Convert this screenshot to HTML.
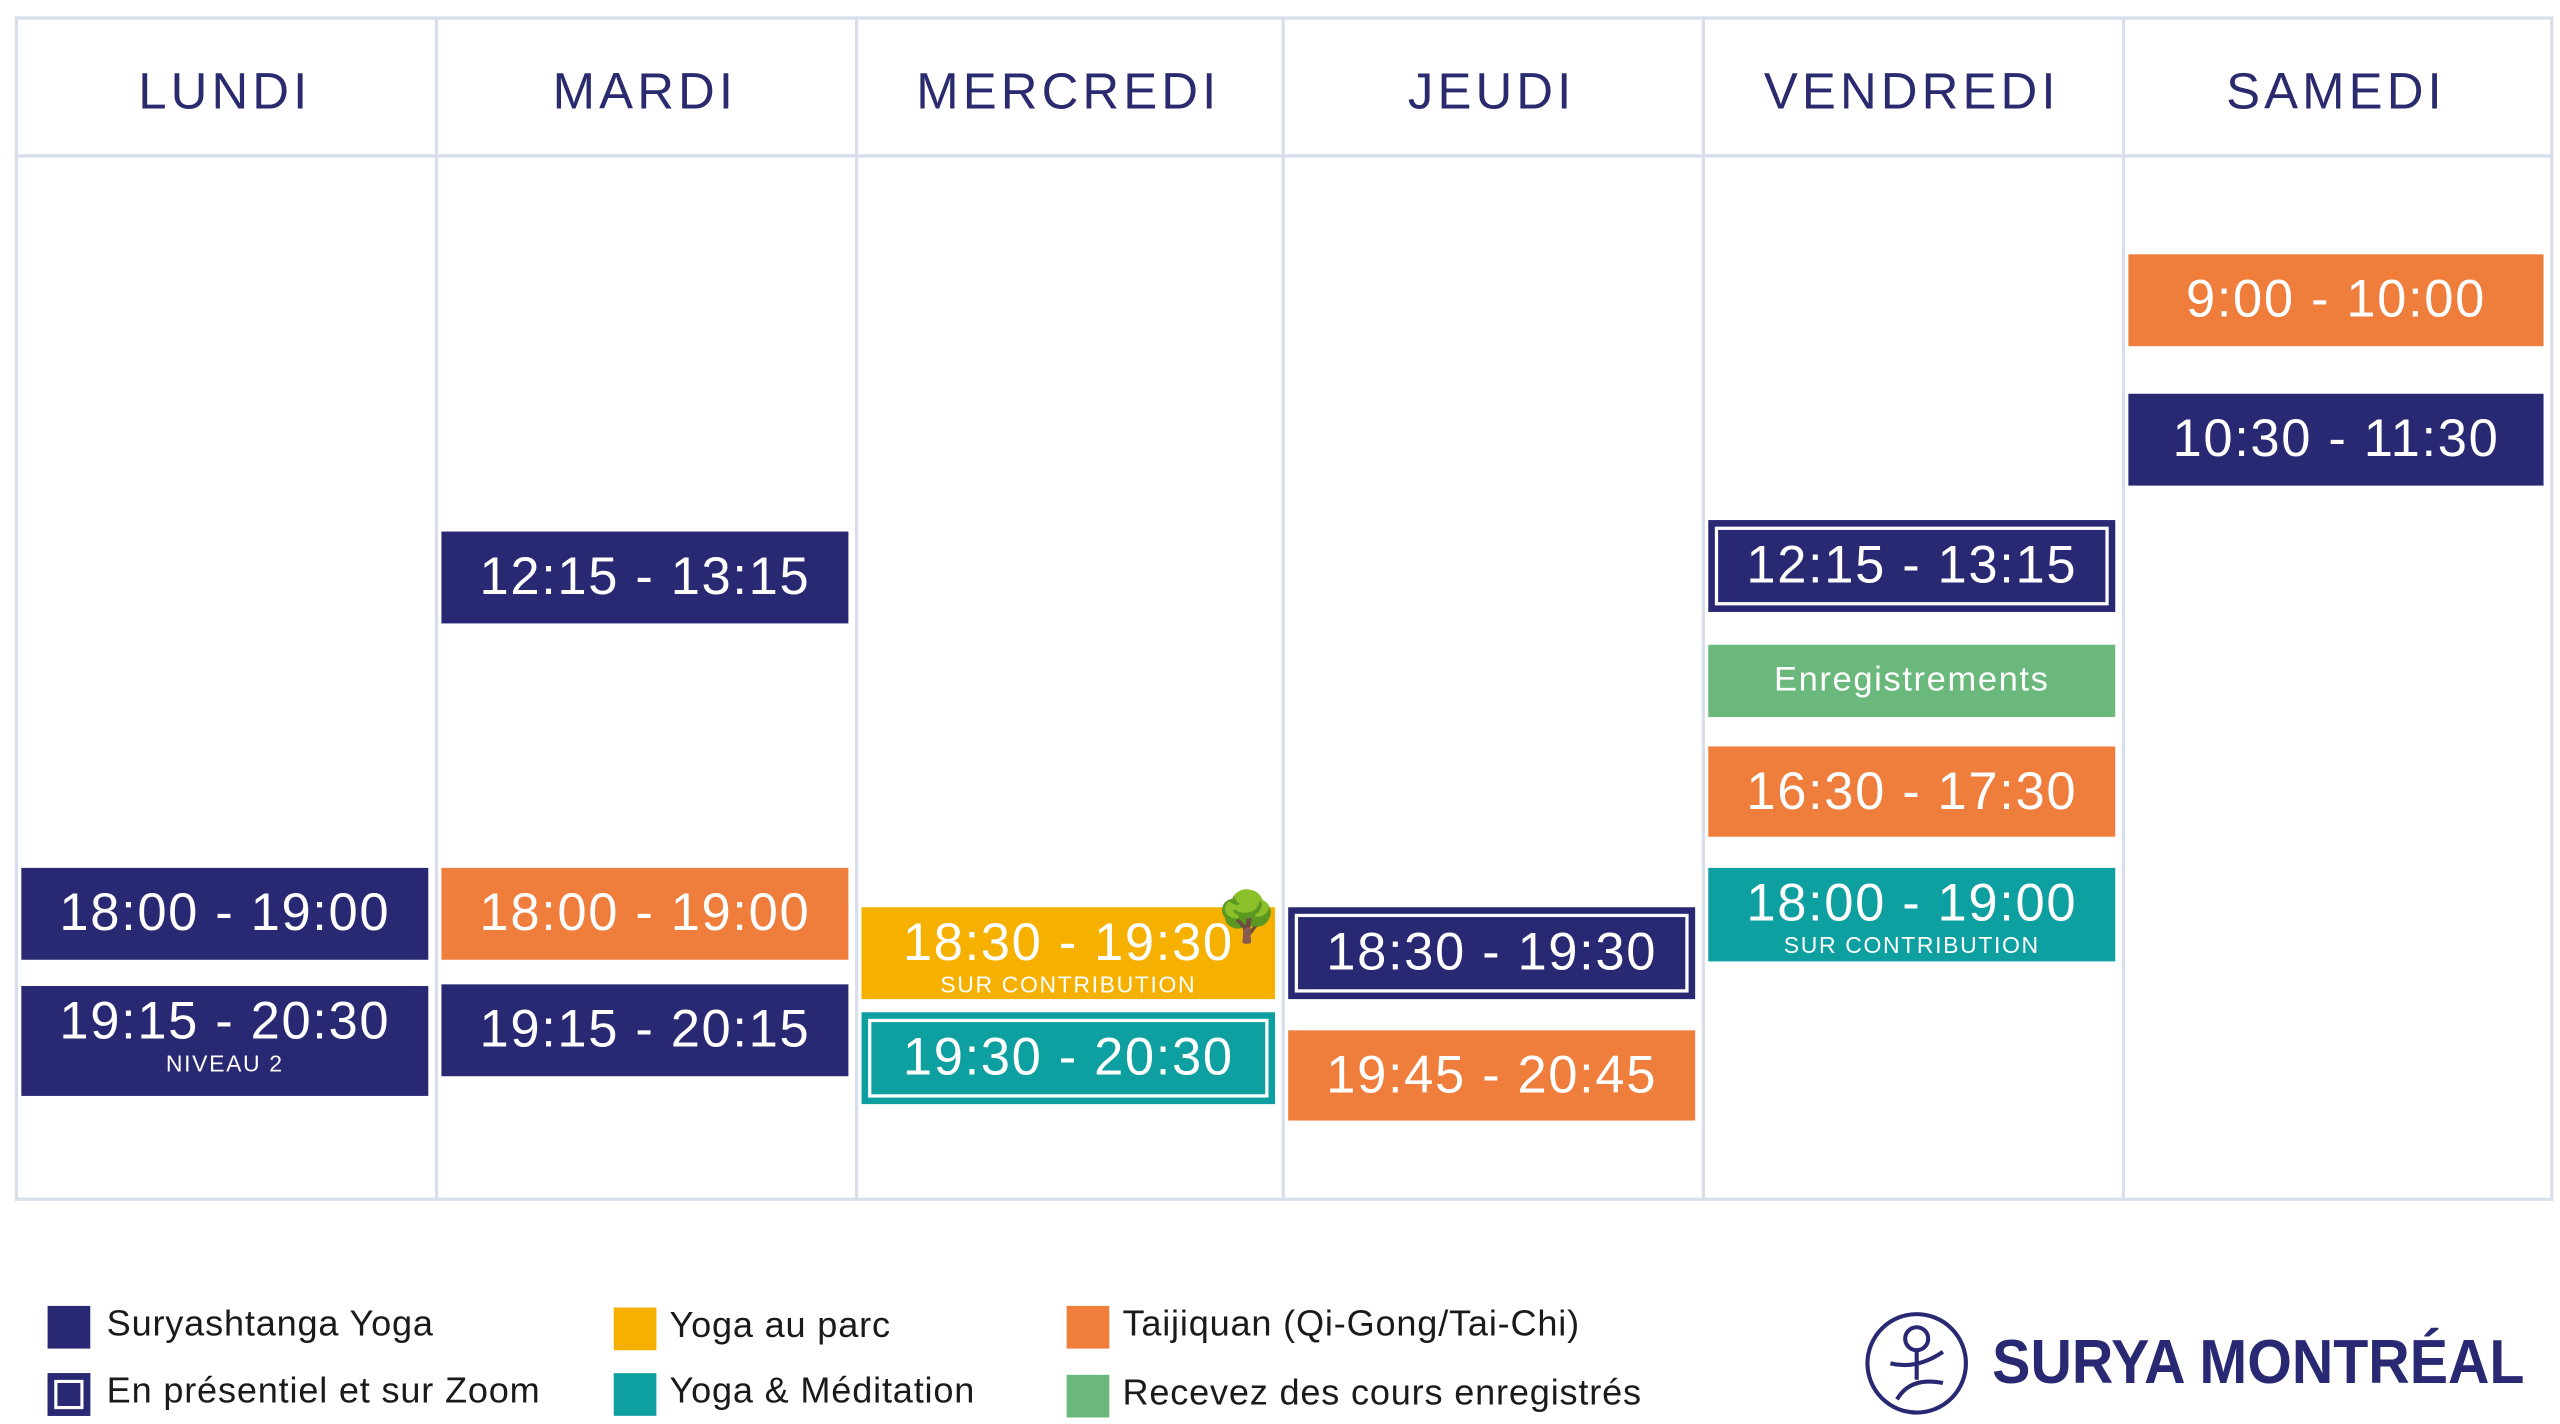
<!DOCTYPE html>
<html><head><meta charset="utf-8"><style>
html,body{margin:0;padding:0;background:#fff;}
body{width:2560px;height:1424px;overflow:hidden;position:relative;}
#stage{position:absolute;left:0;top:0;width:1560px;height:868px;transform:scale(1.641,1.6406);transform-origin:0 0;font-family:"Liberation Sans",sans-serif;}
.grid{position:absolute;left:9px;top:10px;width:1543px;height:718px;border:2px solid #d8deeb;}
.hline{position:absolute;left:9px;top:94px;width:1545px;height:2px;background:#d8deeb;}
.vline{position:absolute;top:10px;width:2px;height:720px;background:#d8deeb;}
.day{position:absolute;top:38px;height:44px;text-align:center;font-size:31px;letter-spacing:2.5px;color:#2a2a6e;}
.blk{position:absolute;color:#fff;text-align:center;box-sizing:border-box;}
.blk .t{font-size:32px;letter-spacing:1px;line-height:1;}
.blk .s{font-size:14px;letter-spacing:1px;line-height:1;margin-top:3px;}
.blk.bord::after{content:"";position:absolute;left:4px;top:4px;right:4px;bottom:4px;border:2px solid #fff;}
.lg{position:absolute;width:26px;height:26px;box-sizing:border-box;}
.lt{position:absolute;font-size:22px;color:#1a1a1a;letter-spacing:0.5px;white-space:nowrap;}
</style></head><body>
<div id="stage">
<div class="grid"></div>
<div class="hline"></div>
<div id="cols"></div>
<div id="blocks"></div>

<div class="lg" style="left:29px;top:796px;background:#282873"></div>
<div class="lt" style="left:65px;top:794px">Suryashtanga Yoga</div>
<div class="lg" style="left:29px;top:837px;background:#282873;border:4px solid #282873;box-shadow:inset 0 0 0 2px #fff"></div>
<div class="lt" style="left:65px;top:835px">En présentiel et sur Zoom</div>
<div class="lg" style="left:374px;top:797px;background:#f5b000"></div>
<div class="lt" style="left:408px;top:795px">Yoga au parc</div>
<div class="lg" style="left:374px;top:837px;background:#0e9fa0"></div>
<div class="lt" style="left:408px;top:835px">Yoga &amp; Méditation</div>
<div class="lg" style="left:650px;top:796px;background:#ef7d3b"></div>
<div class="lt" style="left:684px;top:794px">Taijiquan (Qi-Gong/Tai-Chi)</div>
<div class="lg" style="left:650px;top:838px;background:#6ab87c"></div>
<div class="lt" style="left:684px;top:836px">Recevez des cours enregistrés</div>

<svg style="position:absolute;left:1134px;top:797px" width="68" height="68" viewBox="0 0 68 68">
<circle cx="34" cy="34" r="30" fill="none" stroke="#282873" stroke-width="2.5"/>
<circle cx="34" cy="19" r="7" fill="none" stroke="#282873" stroke-width="2.5"/>
<path d="M34 26 L34 44 M18 34 Q34 38 50 27 M22 56 Q30 42 50 46" fill="none" stroke="#282873" stroke-width="2.5"/>
</svg>
<div style="position:absolute;left:1214px;top:810px;font-size:38px;font-weight:bold;color:#282873;white-space:nowrap;transform:scaleX(0.92);transform-origin:0 0">SURYA MONTRÉAL</div>
</div>
<script>
const days=["LUNDI","MARDI","MERCREDI","JEUDI","VENDREDI","SAMEDI"];
const colEdges=[9,265,521,781,1037,1293,1554];
const classDay=[0,0,1,1,1,2,2,3,3,4,4,4,4,5,5];
const classText=["18:00 - 19:00","19:15 - 20:30","12:15 - 13:15","18:00 - 19:00","19:15 - 20:15","18:30 - 19:30","19:30 - 20:30","18:30 - 19:30","19:45 - 20:45","12:15 - 13:15","Enregistrements","16:30 - 17:30","18:00 - 19:00","9:00 - 10:00","10:30 - 11:30"];
const classSub=["","NIVEAU 2","","","","SUR CONTRIBUTION","","","","","","","SUR CONTRIBUTION","",""];
const classType=["yoga","yoga","yoga","tai","yoga","parc","medz","yogaz","tai","yogaz","rec","tai","med","tai","yoga"];
const classTop=[529,601,324,529,600,553,617,553,628,317,393,455,529,155,240];
const classH=[56,67,56,56,56,56,56,56,55,56,44,55,57,56,56];
const colors={yoga:"#282873",yogaz:"#282873",tai:"#ef7d3b",parc:"#f5b000",med:"#0e9fa0",medz:"#0e9fa0",rec:"#6ab87c"};
const cols=document.getElementById('cols');
days.forEach((d,i)=>{
  const el=document.createElement('div');
  el.className='day';
  el.style.left=colEdges[i]+'px';
  el.style.width=(colEdges[i+1]-colEdges[i])+'px';
  el.textContent=d;
  
  
  cols.appendChild(el);
  if(i>0){
    const v=document.createElement('div');
    v.className='vline';
    v.style.left=colEdges[i]+'px';
    
    
    cols.appendChild(v);
  }
});
const blocks=document.getElementById('blocks');
classText.forEach((t,i)=>{
  const d=classDay[i];
  const b=document.createElement('div');
  const ty=classType[i];
  b.className='blk'+((ty==='yogaz'||ty==='medz')?' bord':'');
  b.style.left=(colEdges[d]+4)+'px';
  b.style.width=(colEdges[d+1]-colEdges[d]-8)+'px';
  b.style.top=classTop[i]+'px';
  b.style.height=classH[i]+'px';
  b.style.background=colors[ty];
  const sub=classSub[i];
  const isRec=ty==='rec';
  b.style.paddingTop=(isRec?11:(sub?5:11))+'px';
  b.innerHTML='<div class="t" style="'+(isRec?'font-size:21px;letter-spacing:1px':'')+'">'+t+'</div>'+(sub?'<div class="s">'+sub+'</div>':'');
  
  
  blocks.appendChild(b);
  if(ty==='parc'){
    const tr=document.createElement('div');
    tr.style.cssText='position:absolute;font-size:30px;line-height:1;';
    tr.style.left=(colEdges[d+1]-40)+'px';
    tr.style.top=(classTop[i]-8)+'px';
    tr.textContent='🌳';
    
    
    blocks.appendChild(tr);
  }
});
</script>
</body></html>
